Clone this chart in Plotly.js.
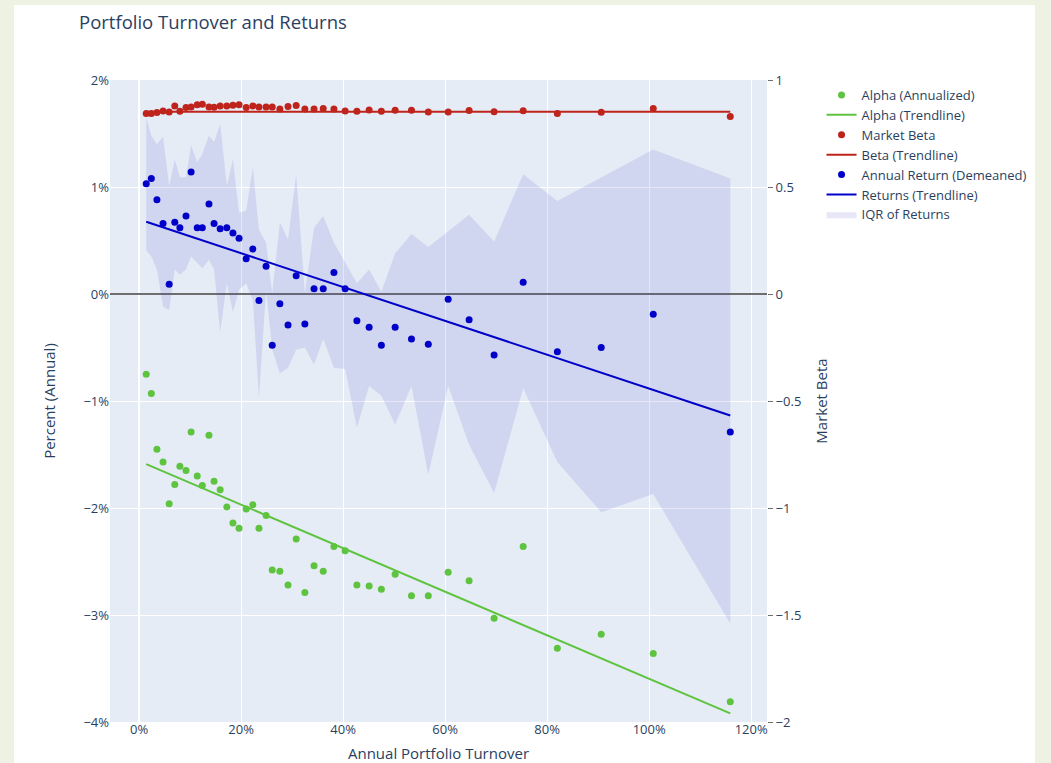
<!DOCTYPE html>
<html>
<head>
<meta charset="utf-8">
<script src="https://cdn.plot.ly/plotly-3.0.1.min.js"></script>
<style>
  html, body { margin: 0; padding: 0; background: #eef2e2; width: 1051px; height: 763px; overflow: hidden; }
  #card { position: absolute; left: 14px; top: 5px; width: 1021px; height: 758px; background: #ffffff; }
  #chart { width: 1021px; height: 758px; }
</style>
</head>
<body>
<div id="card"><div id="chart"></div></div>
<script>
// Annual portfolio turnover (%), one entry per portfolio bucket
const turnover = [1.4, 2.4, 3.5, 4.7, 5.9, 7.0, 8.0, 9.2, 10.2, 11.4, 12.4, 13.7, 14.7, 15.9, 17.2, 18.4, 19.6, 21.0, 22.3, 23.5, 24.9, 26.1, 27.6, 29.2, 30.8, 32.5, 34.3, 36.1, 38.2, 40.4, 42.7, 45.1, 47.5, 50.2, 53.4, 56.7, 60.6, 64.7, 69.6, 75.3, 82.0, 90.6, 100.8, 115.9];

// Alpha (annualized, %)
const alpha = [-0.75, -0.93, -1.45, -1.57, -1.96, -1.78, -1.61, -1.65, -1.29, -1.70, -1.79, -1.32, -1.75, -1.83, -1.99, -2.14, -2.19, -2.01, -1.97, -2.19, -2.07, -2.58, -2.59, -2.72, -2.29, -2.79, -2.54, -2.59, -2.36, -2.40, -2.72, -2.73, -2.76, -2.62, -2.82, -2.82, -2.60, -2.68, -3.03, -2.36, -3.31, -3.18, -3.36, -3.81];

// Market beta
const beta = [0.843, 0.843, 0.848, 0.855, 0.851, 0.878, 0.854, 0.871, 0.874, 0.884, 0.887, 0.874, 0.873, 0.878, 0.879, 0.882, 0.884, 0.871, 0.879, 0.874, 0.874, 0.874, 0.865, 0.876, 0.881, 0.865, 0.865, 0.867, 0.865, 0.855, 0.854, 0.860, 0.854, 0.859, 0.859, 0.851, 0.851, 0.857, 0.852, 0.856, 0.844, 0.849, 0.867, 0.830];

// Annual return (demeaned, %)
const returns = [1.03, 1.08, 0.88, 0.66, 0.09, 0.67, 0.62, 0.73, 1.14, 0.62, 0.62, 0.84, 0.66, 0.61, 0.62, 0.57, 0.52, 0.33, 0.42, -0.06, 0.26, -0.48, -0.09, -0.29, 0.17, -0.28, 0.05, 0.05, 0.20, 0.05, -0.25, -0.31, -0.48, -0.31, -0.42, -0.47, -0.05, -0.24, -0.57, 0.11, -0.54, -0.50, -0.19, -1.29];

// Interquartile range of returns (%)
const iqrHigh = [1.65, 1.48, 1.40, 1.47, 1.01, 1.26, 1.09, 1.09, 1.39, 1.23, 1.31, 1.48, 1.42, 1.59, 1.01, 1.26, 0.76, 0.78, 1.18, 0.60, 0.48, 0.01, 0.67, 0.51, 1.12, 0.01, 0.62, 0.73, 0.48, 0.29, 0.10, 0.23, 0.02, 0.38, 0.56, 0.44, 0.59, 0.74, 0.49, 1.12, 0.87, 1.09, 1.35, 1.08];
const iqrLow = [0.41, 0.35, 0.23, -0.12, -0.15, 0.23, 0.18, 0.23, 0.35, 0.29, 0.24, 0.32, 0.23, -0.36, 0.10, -0.17, 0.04, 0.10, -0.06, -0.97, 0.04, -0.52, -0.74, -0.69, -0.52, -0.50, -0.66, -0.42, -0.69, -0.70, -1.25, -0.86, -0.95, -1.22, -0.86, -1.69, -0.86, -1.41, -1.86, -0.88, -1.57, -2.04, -1.87, -3.08];

// Trendlines (endpoints)
const trendX = [1.4, 115.9];
const alphaTrend = [-1.59, -3.92];
const betaTrend = [0.852, 0.852];
const returnsTrend = [0.675, -1.135];

const GREEN = 'rgb(94,196,64)';
const RED = 'rgb(190,36,28)';
const BLUE = 'rgb(0,0,200)';
const BAND = 'rgba(68,68,200,0.13)';

const traces = [
  {
    x: turnover.concat(turnover.slice().reverse()),
    y: iqrHigh.concat(iqrLow.slice().reverse()),
    type: 'scatter', mode: 'lines', fill: 'toself',
    fillcolor: BAND, line: {width: 0, color: BAND},
    name: 'IQR of Returns', legendrank: 7, hoverinfo: 'skip'
  },
  {
    x: turnover, y: alpha, type: 'scatter', mode: 'markers',
    marker: {color: GREEN, size: 7}, name: 'Alpha (Annualized)', legendrank: 1
  },
  {
    x: trendX, y: alphaTrend, type: 'scatter', mode: 'lines',
    line: {color: GREEN, width: 2}, name: 'Alpha (Trendline)', legendrank: 2
  },
  {
    x: turnover, y: beta, type: 'scatter', mode: 'markers', yaxis: 'y2',
    marker: {color: RED, size: 7}, name: 'Market Beta', legendrank: 3
  },
  {
    x: trendX, y: betaTrend, type: 'scatter', mode: 'lines', yaxis: 'y2',
    line: {color: RED, width: 2}, name: 'Beta (Trendline)', legendrank: 4
  },
  {
    x: turnover, y: returns, type: 'scatter', mode: 'markers',
    marker: {color: BLUE, size: 7}, name: 'Annual Return (Demeaned)', legendrank: 5
  },
  {
    x: trendX, y: returnsTrend, type: 'scatter', mode: 'lines',
    line: {color: BLUE, width: 2}, name: 'Returns (Trendline)', legendrank: 6
  }
];

const layout = {
  width: 1021, height: 758,
  paper_bgcolor: '#ffffff',
  plot_bgcolor: '#E5ECF6',
  font: {color: '#2a3f5f', size: 13},
  margin: {l: 96, r: 268, t: 75, b: 41, autoexpand: false},
  title: {text: 'Portfolio Turnover and Returns', x: 65/1021, xref: 'container', xanchor: 'left',
          y: 1 - 18/758, yref: 'container', yanchor: 'middle', font: {size: 18.5, color: '#2a3f5f'}},
  xaxis: {
    range: [-5.7, 123.1], dtick: 20, tick0: 0, ticksuffix: '%',
    gridcolor: '#ffffff', zerolinecolor: '#ffffff', zerolinewidth: 2, linecolor: '#ffffff',
    ticklabelstandoff: -5,
    title: {text: 'Annual Portfolio Turnover', font: {size: 15}, standoff: 12},
    automargin: false
  },
  yaxis: {
    range: [-4, 2], dtick: 1, ticksuffix: '%',
    gridcolor: '#ffffff', zeroline: true, zerolinecolor: 'rgb(110,110,110)', zerolinewidth: 2,
    title: {text: 'Percent (Annual)', font: {size: 15}, standoff: 24},
    automargin: false
  },
  yaxis2: {
    range: [-2, 1], dtick: 0.5, overlaying: 'y', side: 'right',
    showgrid: false, zeroline: false, ticks: 'outside', ticklen: 5, tickcolor: 'rgb(110,110,110)',
    title: {text: 'Market Beta', font: {size: 15}, standoff: 16},
    automargin: false
  },
  legend: {x: 1.083, y: 1.0, xanchor: 'left', yanchor: 'top', font: {size: 13}, bgcolor: 'rgba(0,0,0,0)'},
  showlegend: true
};

Plotly.newPlot('chart', traces, layout, {staticPlot: true, displayModeBar: false});
</script>
</body>
</html>
